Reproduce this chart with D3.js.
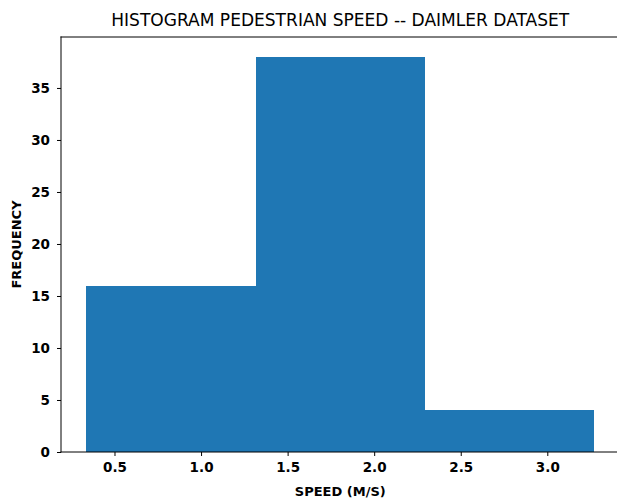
<!DOCTYPE html>
<html>
<head>
<meta charset="utf-8">
<script src="https://cdn.jsdelivr.net/npm/d3@7"></script>
<style>
  html, body { margin: 0; padding: 0; background: #fff; overflow: hidden; }
  svg { display: block; font-family: "DejaVu Sans", sans-serif; }
</style>
</head>
<body>
<svg id="chart" width="617" height="502"></svg>
<script>
const binEdges = [0.338, 1.315, 2.292, 3.27];
const counts = [16, 38, 4];
const xTicks = [0.5, 1.0, 1.5, 2.0, 2.5, 3.0];
const yTicks = [0, 5, 10, 15, 20, 25, 30, 35];
const title = "HISTOGRAM PEDESTRIAN SPEED -- DAIMLER DATASET";
const xLabel = "SPEED (M/S)";
const yLabel = "FREQUENCY";

(function () {
const svg = d3.select("#chart");
const mLeft = 61, mRight = 619.5, mTop = 37, mBottom = 452;

const x = d3.scaleLinear().domain([0.191, 3.417]).range([mLeft, mRight]);
const y = d3.scaleLinear().domain([0, 39.9]).range([mBottom, mTop]);

const bins = counts.map((c, i) => ({x0: binEdges[i], x1: binEdges[i + 1], count: c}));

svg.append("g").selectAll("rect").data(bins).enter().append("rect")
  .attr("x", d => x(d.x0))
  .attr("width", d => x(d.x1) - x(d.x0))
  .attr("y", d => y(d.count))
  .attr("height", d => y(0) - y(d.count))
  .attr("fill", "#1f77b4")
  .attr("shape-rendering", "crispEdges");

// spines (right spine falls outside the visible canvas)
const spines = [
  [mLeft, mTop, mLeft, mBottom],
  [mLeft, mTop, mRight, mTop],
  [mLeft, mBottom, mRight, mBottom]
];
svg.append("g").selectAll("line").data(spines).enter().append("line")
  .attr("x1", d => d[0]).attr("y1", d => d[1])
  .attr("x2", d => d[2]).attr("y2", d => d[3])
  .attr("stroke", "#000").attr("stroke-width", 1).attr("stroke-linecap", "square");

const xAxis = svg.append("g").attr("transform", `translate(0,${mBottom})`)
  .call(d3.axisBottom(x).tickValues(xTicks).tickFormat(d3.format(".1f")).tickSize(4).tickPadding(6));
const yAxis = svg.append("g").attr("transform", `translate(${mLeft},0)`)
  .call(d3.axisLeft(y).tickValues(yTicks).tickFormat(d3.format("d")).tickSize(4).tickPadding(7));

[xAxis, yAxis].forEach(a => {
  a.select(".domain").remove();
  a.selectAll("text").attr("font-family", "DejaVu Sans, sans-serif")
    .attr("font-size", 13.5).attr("font-weight", "bold").attr("fill", "#000");
  a.selectAll("line").attr("stroke", "#000");
});

svg.append("text").attr("x", (mLeft + mRight) / 2).attr("y", 26)
  .attr("text-anchor", "middle").attr("font-size", 17).attr("fill", "#000")
  .attr("textLength", 458).attr("lengthAdjust", "spacingAndGlyphs")
  .text(title);

svg.append("text").attr("x", (mLeft + mRight) / 2).attr("y", 496)
  .attr("text-anchor", "middle").attr("font-size", 13).attr("font-weight", "bold").attr("fill", "#000")
  .text(xLabel);

svg.append("text").attr("transform", `translate(21,${(mTop + mBottom) / 2}) rotate(-90)`)
  .attr("text-anchor", "middle").attr("font-size", 13).attr("font-weight", "bold").attr("fill", "#000")
  .text(yLabel);
})();
</script>
</body>
</html>
